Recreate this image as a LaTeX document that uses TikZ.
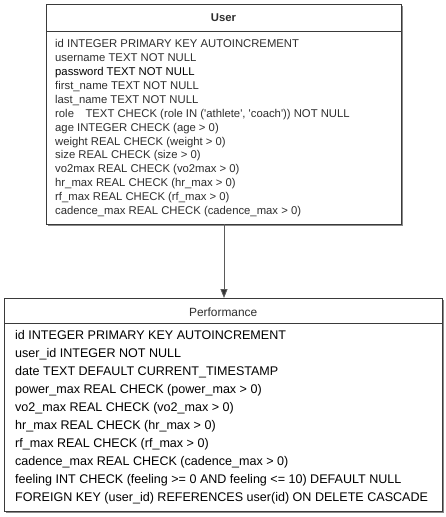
\documentclass[tikz,border=0pt]{standalone}
\usepackage{fontspec}
\setmainfont{Liberation Sans}
\usetikzlibrary{arrows.meta}
\definecolor{boxline}{HTML}{3A3A3A}
\definecolor{shadowc}{HTML}{8A8A8A}
\definecolor{txtuser}{HTML}{2E2E2E}
\definecolor{arrowc}{HTML}{5A5A5A}
\tikzset{
  tablebox/.style={draw=boxline, line width=0.9pt, fill=white},
  tableshadow/.style={fill=shadowc},
  userline/.style={anchor=base west, inner sep=0pt, text=txtuser, font=\fontsize{11.3}{13.9}\selectfont},
  perfline/.style={anchor=base west, inner sep=0pt, text=black, font=\fontsize{12.55}{18}\selectfont},
  fk/.style={draw=arrowc, line width=0.9pt, -{Triangle[length=9pt,width=7pt,fill=black!80]}},
}
\begin{document}
\begin{tikzpicture}[x=1pt,y=-1pt]
\useasboundingbox (0,0) rectangle (446,517);
% User table
\fill[tableshadow] (47.5,6) rectangle (402.5,225.5);
\draw[tablebox] (46,4.5) rectangle (401,224);
\node[draw=none, minimum width=355pt, minimum height=219.5pt, anchor=north west, inner sep=0pt] (user) at (46,4.5) {};
\draw[boxline, line width=0.9pt] (46,31) -- (401,31);
\node[anchor=base, inner sep=0pt, font=\fontsize{11.3}{13.9}\selectfont\bfseries, text=txtuser] (usertitle) at (223.5,21.7) {User};
\foreach \t [count=\i from 0] in {
  {id INTEGER PRIMARY KEY AUTOINCREMENT},
  {username TEXT NOT NULL},
  {\textcolor{black}{password TEXT NOT NULL}},
  {first\_name TEXT NOT NULL},
  {last\_name TEXT NOT NULL},
  {role\hspace{11.5pt}TEXT CHECK (role IN (\textquotesingle athlete\textquotesingle, \textquotesingle coach\textquotesingle)) NOT NULL},
  {age INTEGER CHECK (age > 0)},
  {weight REAL CHECK (weight > 0)},
  {size REAL CHECK (size > 0)},
  {vo2max REAL CHECK (vo2max > 0)},
  {hr\_max REAL CHECK (hr\_max > 0)},
  {rf\_max REAL CHECK (rf\_max > 0)},
  {cadence\_max REAL CHECK (cadence\_max > 0)}}
  \node[userline] (u\i) at (55,47.7+13.9*\i) {\t};
% Performance table
\fill[tableshadow] (6,299.5) rectangle (443.5,513);
\draw[tablebox] (4.5,298) rectangle (442,511.5);
\node[draw=none, minimum width=437.5pt, minimum height=213.5pt, anchor=north west, inner sep=0pt] (perf) at (4.5,298) {};
\draw[boxline, line width=0.9pt] (4.5,323) -- (442,323);
\node[anchor=base, inner sep=0pt, font=\fontsize{11.9}{14}\selectfont, text=txtuser] (perftitle) at (223.2,316.7) {Performance};
\foreach \t [count=\i from 0] in {
  {id INTEGER PRIMARY KEY AUTOINCREMENT},
  {user\_id INTEGER NOT NULL},
  {date TEXT DEFAULT CURRENT\_TIMESTAMP},
  {power\_max REAL CHECK (power\_max > 0)},
  {vo2\_max REAL CHECK (vo2\_max > 0)},
  {hr\_max REAL CHECK (hr\_max > 0)},
  {rf\_max REAL CHECK (rf\_max > 0)},
  {cadence\_max REAL CHECK (cadence\_max > 0)},
  {feeling INT CHECK (feeling >= 0 AND feeling <= 10) DEFAULT NULL},
  {FOREIGN KEY (user\_id) REFERENCES user(id) ON DELETE CASCADE}}
  \node[perfline] (p\i) at (15,339.3+18.04*\i) {\t};
% connector
\draw[fk] (user.south -| 224,0) -- (perf.north -| 224,0);
\end{tikzpicture}
\end{document}
